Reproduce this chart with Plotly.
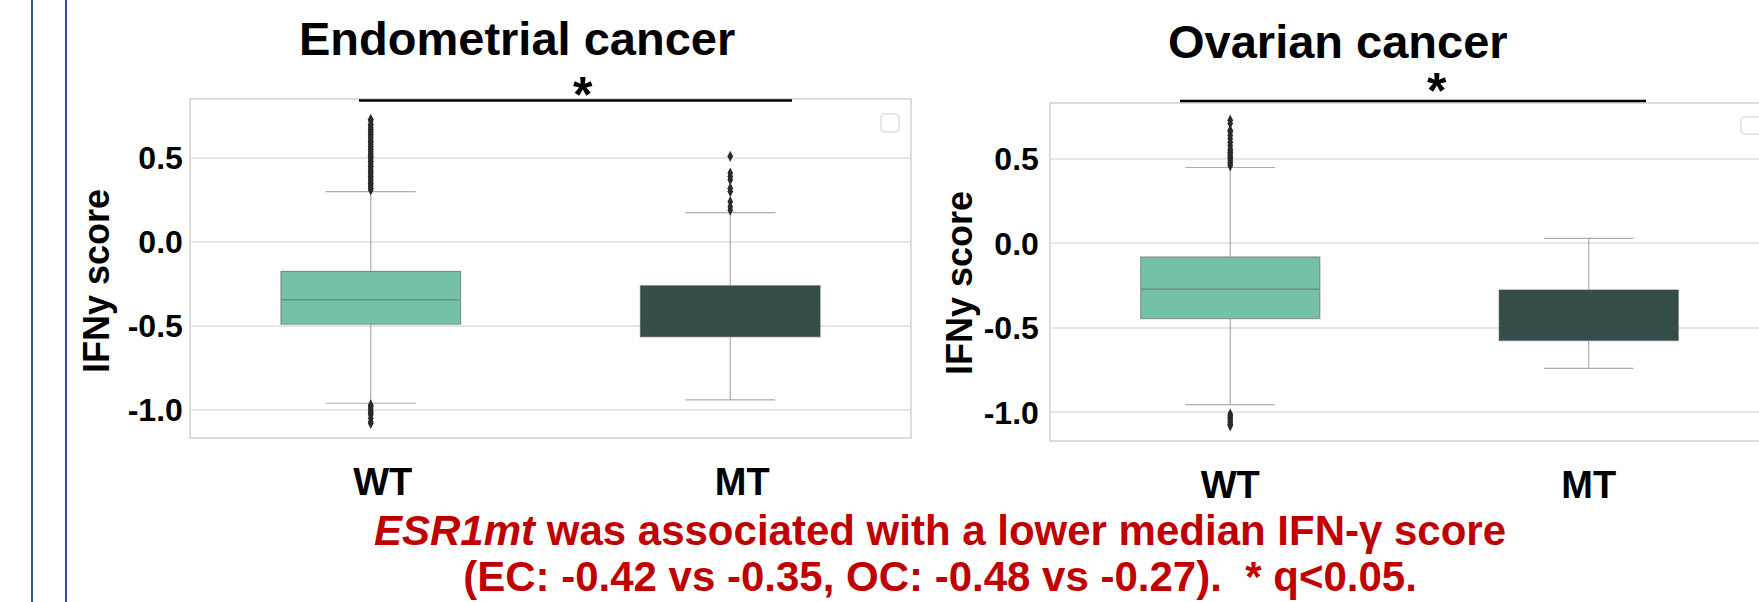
import plotly.graph_objects as go

W, H = 1759, 602

# ---------------- data ----------------
groups = ["WT", "MT"]

ec_q1 = [-0.49, -0.565]
ec_median = [-0.345, -0.415]
ec_q3 = [-0.175, -0.26]
ec_lower = [-0.96, -0.94]
ec_upper = [0.30, 0.175]

oc_q1 = [-0.445, -0.575]
oc_median = [-0.27, -0.48]
oc_q3 = [-0.08, -0.275]
oc_lower = [-0.955, -0.74]
oc_upper = [0.45, 0.03]

ec_wt_outliers = [0.31, 0.32, 0.33, 0.34, 0.35, 0.36, 0.37, 0.38, 0.39, 0.40, 0.41,
                  0.42, 0.43, 0.44, 0.45, 0.46, 0.47, 0.48, 0.49, 0.50, 0.51, 0.52,
                  0.53, 0.54, 0.55, 0.56, 0.57, 0.58, 0.59, 0.60, 0.61, 0.62, 0.63,
                  0.64, 0.65, 0.66, 0.67, 0.68, 0.69, 0.70, 0.72, 0.73,
                  -0.97, -0.98, -0.99, -1.00, -1.01, -1.02, -1.03, -1.05, -1.07, -1.08]
ec_mt_outliers = [0.19, 0.21, 0.24, 0.30, 0.32, 0.37, 0.39, 0.41, 0.51]
oc_wt_outliers = [0.46, 0.47, 0.48, 0.49, 0.50, 0.51, 0.52, 0.53, 0.54, 0.55, 0.56,
                  0.58, 0.60, 0.62, 0.64, 0.66, 0.67, 0.71, 0.73,
                  -1.01, -1.02, -1.03, -1.04, -1.05, -1.06, -1.07, -1.08]
oc_mt_outliers = []

y_tickvals = [0.5, 0.0, -0.5, -1.0]
y_ticktext = ["0.5", "0.0", "-0.5", "-1.0"]

titles = ["Endometrial cancer", "Ovarian cancer"]
y_title = "IFNy score"
caption_line1 = "<i>ESR1mt</i> was associated with a lower median IFN-γ score"
caption_line2 = "(EC: -0.42 vs -0.35, OC: -0.48 vs -0.27).\u00a0\u00a0* q<0.05."

colors = ["#75c1a6", "#344c4a"]
FONT = "Liberation Sans, Arial, sans-serif"
RED = "#c00000"


def px(x):
    return x / W


def py(y):
    return 1 - y / H


fig = go.Figure()

panels = [
    ("x", "y", ec_q1, ec_median, ec_q3, ec_lower, ec_upper, [ec_wt_outliers, ec_mt_outliers]),
    ("x2", "y2", oc_q1, oc_median, oc_q3, oc_lower, oc_upper, [oc_wt_outliers, oc_mt_outliers]),
]

for xa, ya, q1, med, q3, lo, up, outs in panels:
    for i, g in enumerate(groups):
        fig.add_trace(go.Box(
            x=[g], q1=[q1[i]], median=[med[i]], q3=[q3[i]],
            lowerfence=[lo[i]], upperfence=[up[i]],
            fillcolor=colors[i],
            line=dict(color="rgba(70,70,70,0.45)", width=1.2),
            width=0.5, whiskerwidth=0.5,
            xaxis=xa, yaxis=ya, showlegend=False, hoverinfo="skip",
        ))
        if outs[i]:
            fig.add_trace(go.Scatter(
                x=[g] * len(outs[i]), y=outs[i], mode="markers",
                marker=dict(symbol="diamond-tall", size=8, color="#2a2a2a",
                            line=dict(width=0)),
                xaxis=xa, yaxis=ya, showlegend=False, hoverinfo="skip",
            ))

xcommon = dict(
    type="category", categoryorder="array", categoryarray=groups,
    showgrid=False, zeroline=False, ticks="",
    showline=True, linecolor="#dcdcdc", linewidth=1.5, mirror=True,
    tickfont=dict(family=FONT, size=38, color="black", weight="bold"),
    ticklabelstandoff=11,
)
ycommon = dict(
    tickvals=y_tickvals, ticktext=y_ticktext,
    showgrid=True, gridcolor="#e6e6e6", gridwidth=1.5, zeroline=False, ticks="",
    showline=True, linecolor="#dcdcdc", linewidth=1.5,
    tickfont=dict(family=FONT, size=32, color="black", weight="bold"),
)

fig.update_layout(
    width=W, height=H,
    margin=dict(l=0, r=0, t=0, b=0),
    paper_bgcolor="white", plot_bgcolor="white",
    boxmode="overlay",
    xaxis=dict(xcommon, domain=[px(191), px(910)], range=[-0.5, 1.5],
               anchor="y", ticklabelshift=12),
    yaxis=dict(ycommon, domain=[py(437), py(100)], range=[-1.161, 0.845],
               anchor="x", mirror=True, ticklabelstandoff=0),
    xaxis2=dict(xcommon, domain=[px(1051), 1.0], range=[-0.5, 1.475],
                anchor="y2"),
    yaxis2=dict(ycommon, domain=[py(440), py(104)], range=[-1.164, 0.826],
                anchor="x2", mirror=False, ticklabelstandoff=4),
)

shapes = []
# slide border lines
for xb in [32, 66]:
    shapes.append(dict(type="line", xref="paper", yref="paper",
                       x0=px(xb), x1=px(xb), y0=0, y1=1,
                       line=dict(color="#2f5597", width=2)))
# significance bars
shapes.append(dict(type="line", xref="paper", yref="paper",
                   x0=px(359), x1=px(792), y0=py(100.5), y1=py(100.5),
                   line=dict(color="black", width=2.5)))
shapes.append(dict(type="line", xref="paper", yref="paper",
                   x0=px(1180), x1=px(1646), y0=py(101), y1=py(101),
                   line=dict(color="black", width=2.5)))


# empty legend boxes (rounded)
def rounded(x0, y0, x1, y1, r=4):
    X0, X1 = px(x0), px(x1)
    Y0, Y1 = py(y0), py(y1)
    rx, ry = r / W, r / H
    return (f"M{X0+rx},{Y0} L{X1-rx},{Y0} Q{X1},{Y0} {X1},{Y0-ry} "
            f"L{X1},{Y1+ry} Q{X1},{Y1} {X1-rx},{Y1} L{X0+rx},{Y1} "
            f"Q{X0},{Y1} {X0},{Y1+ry} L{X0},{Y0-ry} Q{X0},{Y0} {X0+rx},{Y0} Z")


shapes.append(dict(type="path", xref="paper", yref="paper",
                   path=rounded(881, 114, 899, 132),
                   line=dict(color="#e0e0e0", width=1.5), fillcolor="white"))
shapes.append(dict(type="path", xref="paper", yref="paper",
                   path=rounded(1741, 117, 1762, 134),
                   line=dict(color="#e0e0e0", width=1.5), fillcolor="white"))
fig.update_layout(shapes=shapes)

ann = []
ann.append(dict(text="<b>" + titles[0] + "</b>", x=px(517), y=py(38.5),
                font=dict(family=FONT, size=47, color="black")))
ann.append(dict(text="<b>" + titles[1] + "</b>", x=px(1338), y=py(41.5),
                font=dict(family=FONT, size=47, color="black")))
ann.append(dict(text="<b>*</b>", x=px(583), y=py(95),
                font=dict(family=FONT, size=50, color="black")))
ann.append(dict(text="<b>*</b>", x=px(1437), y=py(91),
                font=dict(family=FONT, size=50, color="black")))
ann.append(dict(text="<b>" + y_title + "</b>", x=px(96), y=py(281), textangle=-90,
                font=dict(family=FONT, size=36, color="black")))
ann.append(dict(text="<b>" + y_title + "</b>", x=px(959), y=py(283), textangle=-90,
                font=dict(family=FONT, size=36, color="black")))
# two-line caption in one text; line spacing = 1.3 x base size
caption = ("<span style='font-size:42px'><b>" + caption_line1 + "</b></span><br>"
           "<span style='font-size:42px'><b>" + caption_line2 + "</b></span>")
ann.append(dict(text=caption, x=px(940), y=py(601), yanchor="bottom",
                font=dict(family=FONT, size=35, color=RED)))
for a in ann:
    a.setdefault("yanchor", "middle")
    a.update(xref="paper", yref="paper", showarrow=False, borderpad=0,
             xanchor="center")
fig.update_layout(annotations=ann)

fig.write_html("out.html", config={"displayModeBar": False},
               post_script="document.body.style.margin='0';document.body.style.overflow='hidden';")
